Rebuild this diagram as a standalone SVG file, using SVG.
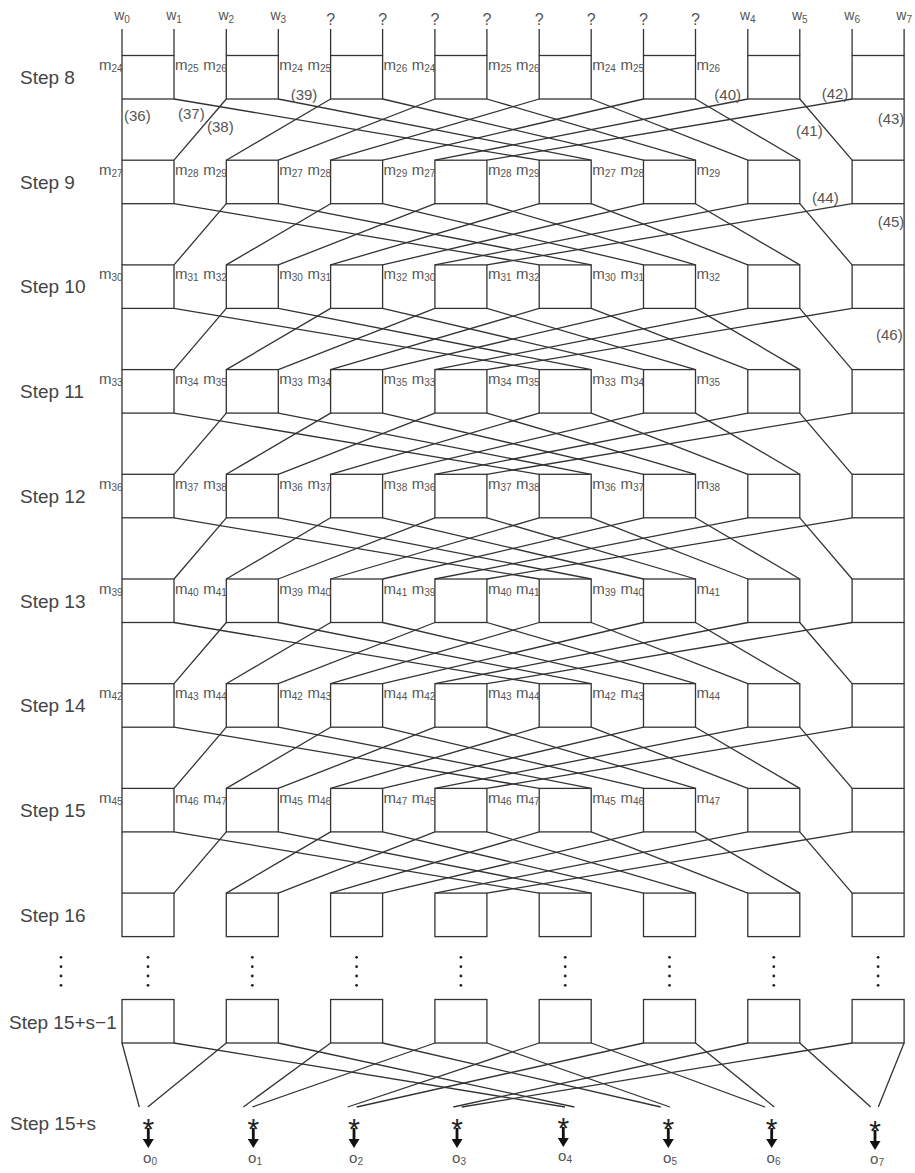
<svg xmlns="http://www.w3.org/2000/svg" width="915" height="1173" viewBox="0 0 915 1173">
<style>
.ln{stroke:#333;stroke-width:1.3;fill:none}
.box{fill:none;stroke:#333;stroke-width:1.3}
text{font-family:"Liberation Sans",Arial,sans-serif}
.step{font-size:19px;fill:#444}
.m{font-size:15px;fill:#555}
.s{font-size:10px}
.n{font-size:15px;fill:#555}
.w{font-size:14px;fill:#555;text-anchor:middle}
.q{font-size:16px;fill:#555;text-anchor:middle}
.star{font-size:30px;fill:#222;text-anchor:middle}
.o{font-size:15px;fill:#555;text-anchor:middle}
.arr{stroke:#111;stroke-width:2.8;marker-end:url(#ah)}
.dot{fill:#222}
.r{text-anchor:end}
</style>
<defs>
<marker id="ah" viewBox="0 0 10 11" refX="0" refY="5.5" markerWidth="10" markerHeight="11" markerUnits="userSpaceOnUse" orient="auto">
<path d="M0,0 L9,5.5 L0,11 z" fill="#111"/>
</marker>
</defs>
<rect width="915" height="1173" fill="#fff"/>

<g id="top-labels">
<text class="w" x="122" y="20">w<tspan class="s" dy="3">0</tspan></text>
<text class="w" x="174" y="20">w<tspan class="s" dy="3">1</tspan></text>
<text class="w" x="226.3" y="20">w<tspan class="s" dy="3">2</tspan></text>
<text class="w" x="278.3" y="20">w<tspan class="s" dy="3">3</tspan></text>
<text class="q" x="330.6" y="25">?</text>
<text class="q" x="382.6" y="25">?</text>
<text class="q" x="434.9" y="25">?</text>
<text class="q" x="486.9" y="25">?</text>
<text class="q" x="539.2" y="25">?</text>
<text class="q" x="591.2" y="25">?</text>
<text class="q" x="643.5" y="25">?</text>
<text class="q" x="695.5" y="25">?</text>
<text class="w" x="747.8" y="20">w<tspan class="s" dy="3">4</tspan></text>
<text class="w" x="799.8" y="20">w<tspan class="s" dy="3">5</tspan></text>
<text class="w" x="852.1" y="20">w<tspan class="s" dy="3">6</tspan></text>
<text class="w" x="904.1" y="20">w<tspan class="s" dy="3">7</tspan></text>
</g>

<g id="step-labels" class="step">
<text x="20" y="84">Step 8</text>
<text x="20" y="188.7">Step 9</text>
<text x="20" y="293.4">Step 10</text>
<text x="20" y="398.1">Step 11</text>
<text x="20" y="502.8">Step 12</text>
<text x="20" y="607.5">Step 13</text>
<text x="20" y="712.2">Step 14</text>
<text x="20" y="816.9">Step 15</text>
<text x="20" y="921.6">Step 16</text>
<text x="9" y="1029">Step 15+s−1</text>
<text x="10" y="1130">Step 15+s</text>
</g>

<g id="connectors" class="ln">
<line x1="122" y1="29" x2="122" y2="55.5"/><line x1="174" y1="29" x2="174" y2="55.5"/>
<line x1="226.3" y1="29" x2="226.3" y2="55.5"/><line x1="278.3" y1="29" x2="278.3" y2="55.5"/>
<line x1="330.6" y1="29" x2="330.6" y2="55.5"/><line x1="382.6" y1="29" x2="382.6" y2="55.5"/>
<line x1="434.9" y1="29" x2="434.9" y2="55.5"/><line x1="486.9" y1="29" x2="486.9" y2="55.5"/>
<line x1="539.2" y1="29" x2="539.2" y2="55.5"/><line x1="591.2" y1="29" x2="591.2" y2="55.5"/>
<line x1="643.5" y1="29" x2="643.5" y2="55.5"/><line x1="695.5" y1="29" x2="695.5" y2="55.5"/>
<line x1="747.8" y1="29" x2="747.8" y2="55.5"/><line x1="799.8" y1="29" x2="799.8" y2="55.5"/>
<line x1="852.1" y1="29" x2="852.1" y2="55.5"/><line x1="904.1" y1="29" x2="904.1" y2="55.5"/>
<line x1="122" y1="99" x2="122" y2="160.2"/><line x1="174" y1="99" x2="539.2" y2="160.2"/>
<line x1="226.3" y1="99" x2="174" y2="160.2"/><line x1="278.3" y1="99" x2="591.2" y2="160.2"/>
<line x1="330.6" y1="99" x2="226.3" y2="160.2"/><line x1="382.6" y1="99" x2="643.5" y2="160.2"/>
<line x1="434.9" y1="99" x2="278.3" y2="160.2"/><line x1="486.9" y1="99" x2="695.5" y2="160.2"/>
<line x1="539.2" y1="99" x2="330.6" y2="160.2"/><line x1="591.2" y1="99" x2="747.8" y2="160.2"/>
<line x1="643.5" y1="99" x2="382.6" y2="160.2"/><line x1="695.5" y1="99" x2="799.8" y2="160.2"/>
<line x1="747.8" y1="99" x2="434.9" y2="160.2"/><line x1="799.8" y1="99" x2="852.1" y2="160.2"/>
<line x1="852.1" y1="99" x2="486.9" y2="160.2"/><line x1="904.1" y1="99" x2="904.1" y2="160.2"/>
<line x1="122" y1="203.7" x2="122" y2="264.9"/><line x1="174" y1="203.7" x2="539.2" y2="264.9"/>
<line x1="226.3" y1="203.7" x2="174" y2="264.9"/><line x1="278.3" y1="203.7" x2="591.2" y2="264.9"/>
<line x1="330.6" y1="203.7" x2="226.3" y2="264.9"/><line x1="382.6" y1="203.7" x2="643.5" y2="264.9"/>
<line x1="434.9" y1="203.7" x2="278.3" y2="264.9"/><line x1="486.9" y1="203.7" x2="695.5" y2="264.9"/>
<line x1="539.2" y1="203.7" x2="330.6" y2="264.9"/><line x1="591.2" y1="203.7" x2="747.8" y2="264.9"/>
<line x1="643.5" y1="203.7" x2="382.6" y2="264.9"/><line x1="695.5" y1="203.7" x2="799.8" y2="264.9"/>
<line x1="747.8" y1="203.7" x2="434.9" y2="264.9"/><line x1="799.8" y1="203.7" x2="852.1" y2="264.9"/>
<line x1="852.1" y1="203.7" x2="486.9" y2="264.9"/><line x1="904.1" y1="203.7" x2="904.1" y2="264.9"/>
<line x1="122" y1="308.4" x2="122" y2="369.6"/><line x1="174" y1="308.4" x2="539.2" y2="369.6"/>
<line x1="226.3" y1="308.4" x2="174" y2="369.6"/><line x1="278.3" y1="308.4" x2="591.2" y2="369.6"/>
<line x1="330.6" y1="308.4" x2="226.3" y2="369.6"/><line x1="382.6" y1="308.4" x2="643.5" y2="369.6"/>
<line x1="434.9" y1="308.4" x2="278.3" y2="369.6"/><line x1="486.9" y1="308.4" x2="695.5" y2="369.6"/>
<line x1="539.2" y1="308.4" x2="330.6" y2="369.6"/><line x1="591.2" y1="308.4" x2="747.8" y2="369.6"/>
<line x1="643.5" y1="308.4" x2="382.6" y2="369.6"/><line x1="695.5" y1="308.4" x2="799.8" y2="369.6"/>
<line x1="747.8" y1="308.4" x2="434.9" y2="369.6"/><line x1="799.8" y1="308.4" x2="852.1" y2="369.6"/>
<line x1="852.1" y1="308.4" x2="486.9" y2="369.6"/><line x1="904.1" y1="308.4" x2="904.1" y2="369.6"/>
<line x1="122" y1="413.1" x2="122" y2="474.3"/><line x1="174" y1="413.1" x2="539.2" y2="474.3"/>
<line x1="226.3" y1="413.1" x2="174" y2="474.3"/><line x1="278.3" y1="413.1" x2="591.2" y2="474.3"/>
<line x1="330.6" y1="413.1" x2="226.3" y2="474.3"/><line x1="382.6" y1="413.1" x2="643.5" y2="474.3"/>
<line x1="434.9" y1="413.1" x2="278.3" y2="474.3"/><line x1="486.9" y1="413.1" x2="695.5" y2="474.3"/>
<line x1="539.2" y1="413.1" x2="330.6" y2="474.3"/><line x1="591.2" y1="413.1" x2="747.8" y2="474.3"/>
<line x1="643.5" y1="413.1" x2="382.6" y2="474.3"/><line x1="695.5" y1="413.1" x2="799.8" y2="474.3"/>
<line x1="747.8" y1="413.1" x2="434.9" y2="474.3"/><line x1="799.8" y1="413.1" x2="852.1" y2="474.3"/>
<line x1="852.1" y1="413.1" x2="486.9" y2="474.3"/><line x1="904.1" y1="413.1" x2="904.1" y2="474.3"/>
<line x1="122" y1="517.8" x2="122" y2="579"/><line x1="174" y1="517.8" x2="539.2" y2="579"/>
<line x1="226.3" y1="517.8" x2="174" y2="579"/><line x1="278.3" y1="517.8" x2="591.2" y2="579"/>
<line x1="330.6" y1="517.8" x2="226.3" y2="579"/><line x1="382.6" y1="517.8" x2="643.5" y2="579"/>
<line x1="434.9" y1="517.8" x2="278.3" y2="579"/><line x1="486.9" y1="517.8" x2="695.5" y2="579"/>
<line x1="539.2" y1="517.8" x2="330.6" y2="579"/><line x1="591.2" y1="517.8" x2="747.8" y2="579"/>
<line x1="643.5" y1="517.8" x2="382.6" y2="579"/><line x1="695.5" y1="517.8" x2="799.8" y2="579"/>
<line x1="747.8" y1="517.8" x2="434.9" y2="579"/><line x1="799.8" y1="517.8" x2="852.1" y2="579"/>
<line x1="852.1" y1="517.8" x2="486.9" y2="579"/><line x1="904.1" y1="517.8" x2="904.1" y2="579"/>
<line x1="122" y1="622.5" x2="122" y2="683.7"/><line x1="174" y1="622.5" x2="539.2" y2="683.7"/>
<line x1="226.3" y1="622.5" x2="174" y2="683.7"/><line x1="278.3" y1="622.5" x2="591.2" y2="683.7"/>
<line x1="330.6" y1="622.5" x2="226.3" y2="683.7"/><line x1="382.6" y1="622.5" x2="643.5" y2="683.7"/>
<line x1="434.9" y1="622.5" x2="278.3" y2="683.7"/><line x1="486.9" y1="622.5" x2="695.5" y2="683.7"/>
<line x1="539.2" y1="622.5" x2="330.6" y2="683.7"/><line x1="591.2" y1="622.5" x2="747.8" y2="683.7"/>
<line x1="643.5" y1="622.5" x2="382.6" y2="683.7"/><line x1="695.5" y1="622.5" x2="799.8" y2="683.7"/>
<line x1="747.8" y1="622.5" x2="434.9" y2="683.7"/><line x1="799.8" y1="622.5" x2="852.1" y2="683.7"/>
<line x1="852.1" y1="622.5" x2="486.9" y2="683.7"/><line x1="904.1" y1="622.5" x2="904.1" y2="683.7"/>
<line x1="122" y1="727.2" x2="122" y2="788.4"/><line x1="174" y1="727.2" x2="539.2" y2="788.4"/>
<line x1="226.3" y1="727.2" x2="174" y2="788.4"/><line x1="278.3" y1="727.2" x2="591.2" y2="788.4"/>
<line x1="330.6" y1="727.2" x2="226.3" y2="788.4"/><line x1="382.6" y1="727.2" x2="643.5" y2="788.4"/>
<line x1="434.9" y1="727.2" x2="278.3" y2="788.4"/><line x1="486.9" y1="727.2" x2="695.5" y2="788.4"/>
<line x1="539.2" y1="727.2" x2="330.6" y2="788.4"/><line x1="591.2" y1="727.2" x2="747.8" y2="788.4"/>
<line x1="643.5" y1="727.2" x2="382.6" y2="788.4"/><line x1="695.5" y1="727.2" x2="799.8" y2="788.4"/>
<line x1="747.8" y1="727.2" x2="434.9" y2="788.4"/><line x1="799.8" y1="727.2" x2="852.1" y2="788.4"/>
<line x1="852.1" y1="727.2" x2="486.9" y2="788.4"/><line x1="904.1" y1="727.2" x2="904.1" y2="788.4"/>
<line x1="122" y1="831.9" x2="122" y2="893.1"/><line x1="174" y1="831.9" x2="539.2" y2="893.1"/>
<line x1="226.3" y1="831.9" x2="174" y2="893.1"/><line x1="278.3" y1="831.9" x2="591.2" y2="893.1"/>
<line x1="330.6" y1="831.9" x2="226.3" y2="893.1"/><line x1="382.6" y1="831.9" x2="643.5" y2="893.1"/>
<line x1="434.9" y1="831.9" x2="278.3" y2="893.1"/><line x1="486.9" y1="831.9" x2="695.5" y2="893.1"/>
<line x1="539.2" y1="831.9" x2="330.6" y2="893.1"/><line x1="591.2" y1="831.9" x2="747.8" y2="893.1"/>
<line x1="643.5" y1="831.9" x2="382.6" y2="893.1"/><line x1="695.5" y1="831.9" x2="799.8" y2="893.1"/>
<line x1="747.8" y1="831.9" x2="434.9" y2="893.1"/><line x1="799.8" y1="831.9" x2="852.1" y2="893.1"/>
<line x1="852.1" y1="831.9" x2="486.9" y2="893.1"/><line x1="904.1" y1="831.9" x2="904.1" y2="893.1"/>
<line x1="122" y1="1043" x2="139.3" y2="1107"/><line x1="226.3" y1="1043" x2="147.7" y2="1107"/>
<line x1="330.6" y1="1043" x2="243.3" y2="1107"/><line x1="434.9" y1="1043" x2="252.3" y2="1107"/>
<line x1="539.2" y1="1043" x2="347.7" y2="1107"/><line x1="643.5" y1="1043" x2="356.7" y2="1107"/>
<line x1="747.8" y1="1043" x2="453.3" y2="1107"/><line x1="852.1" y1="1043" x2="461.7" y2="1107"/>
<line x1="174" y1="1043" x2="565" y2="1107"/><line x1="278.3" y1="1043" x2="574.3" y2="1107"/>
<line x1="382.6" y1="1043" x2="660.7" y2="1107"/><line x1="486.9" y1="1043" x2="670" y2="1107"/>
<line x1="591.2" y1="1043" x2="765" y2="1107"/><line x1="695.5" y1="1043" x2="774.3" y2="1107"/>
<line x1="799.8" y1="1043" x2="870.7" y2="1107"/><line x1="904.1" y1="1043" x2="878.3" y2="1107"/>
</g>

<g id="wire-numbers" class="n">
<text x="124" y="121">(36)</text>
<text x="178" y="119">(37)</text>
<text x="207" y="131.7">(38)</text>
<text x="290.7" y="100">(39)</text>
<text x="714.3" y="100">(40)</text>
<text x="796" y="136">(41)</text>
<text x="821.7" y="99">(42)</text>
<text x="877.7" y="124">(43)</text>
<text x="812" y="203.3">(44)</text>
<text x="877.7" y="226.7">(45)</text>
<text x="876" y="340">(46)</text>
</g>

<g id="s8-0"><rect class="box" x="122" y="55.5" width="52" height="43.5"/><text class="m r" x="122.5" y="70">m<tspan class="s" dy="2">24</tspan></text><text class="m" x="175" y="70">m<tspan class="s" dy="2">25</tspan></text></g>
<g id="s8-1"><rect class="box" x="226.3" y="55.5" width="52" height="43.5"/><text class="m r" x="226.8" y="70">m<tspan class="s" dy="2">26</tspan></text><text class="m" x="279.3" y="70">m<tspan class="s" dy="2">24</tspan></text></g>
<g id="s8-2"><rect class="box" x="330.6" y="55.5" width="52" height="43.5"/><text class="m r" x="331.1" y="70">m<tspan class="s" dy="2">25</tspan></text><text class="m" x="383.6" y="70">m<tspan class="s" dy="2">26</tspan></text></g>
<g id="s8-3"><rect class="box" x="434.9" y="55.5" width="52" height="43.5"/><text class="m r" x="435.4" y="70">m<tspan class="s" dy="2">24</tspan></text><text class="m" x="487.9" y="70">m<tspan class="s" dy="2">25</tspan></text></g>
<g id="s8-4"><rect class="box" x="539.2" y="55.5" width="52" height="43.5"/><text class="m r" x="539.7" y="70">m<tspan class="s" dy="2">26</tspan></text><text class="m" x="592.2" y="70">m<tspan class="s" dy="2">24</tspan></text></g>
<g id="s8-5"><rect class="box" x="643.5" y="55.5" width="52" height="43.5"/><text class="m r" x="644" y="70">m<tspan class="s" dy="2">25</tspan></text><text class="m" x="696.5" y="70">m<tspan class="s" dy="2">26</tspan></text></g>
<g id="s8-6"><rect class="box" x="747.8" y="55.5" width="52" height="43.5"/></g>
<g id="s8-7"><rect class="box" x="852.1" y="55.5" width="52" height="43.5"/></g>

<g id="s9-0"><rect class="box" x="122" y="160.2" width="52" height="43.5"/><text class="m r" x="122.5" y="174.7">m<tspan class="s" dy="2">27</tspan></text><text class="m" x="175" y="174.7">m<tspan class="s" dy="2">28</tspan></text></g>
<g id="s9-1"><rect class="box" x="226.3" y="160.2" width="52" height="43.5"/><text class="m r" x="226.8" y="174.7">m<tspan class="s" dy="2">29</tspan></text><text class="m" x="279.3" y="174.7">m<tspan class="s" dy="2">27</tspan></text></g>
<g id="s9-2"><rect class="box" x="330.6" y="160.2" width="52" height="43.5"/><text class="m r" x="331.1" y="174.7">m<tspan class="s" dy="2">28</tspan></text><text class="m" x="383.6" y="174.7">m<tspan class="s" dy="2">29</tspan></text></g>
<g id="s9-3"><rect class="box" x="434.9" y="160.2" width="52" height="43.5"/><text class="m r" x="435.4" y="174.7">m<tspan class="s" dy="2">27</tspan></text><text class="m" x="487.9" y="174.7">m<tspan class="s" dy="2">28</tspan></text></g>
<g id="s9-4"><rect class="box" x="539.2" y="160.2" width="52" height="43.5"/><text class="m r" x="539.7" y="174.7">m<tspan class="s" dy="2">29</tspan></text><text class="m" x="592.2" y="174.7">m<tspan class="s" dy="2">27</tspan></text></g>
<g id="s9-5"><rect class="box" x="643.5" y="160.2" width="52" height="43.5"/><text class="m r" x="644" y="174.7">m<tspan class="s" dy="2">28</tspan></text><text class="m" x="696.5" y="174.7">m<tspan class="s" dy="2">29</tspan></text></g>
<g id="s9-6"><rect class="box" x="747.8" y="160.2" width="52" height="43.5"/></g>
<g id="s9-7"><rect class="box" x="852.1" y="160.2" width="52" height="43.5"/></g>

<g id="s10-0"><rect class="box" x="122" y="264.9" width="52" height="43.5"/><text class="m r" x="122.5" y="279.4">m<tspan class="s" dy="2">30</tspan></text><text class="m" x="175" y="279.4">m<tspan class="s" dy="2">31</tspan></text></g>
<g id="s10-1"><rect class="box" x="226.3" y="264.9" width="52" height="43.5"/><text class="m r" x="226.8" y="279.4">m<tspan class="s" dy="2">32</tspan></text><text class="m" x="279.3" y="279.4">m<tspan class="s" dy="2">30</tspan></text></g>
<g id="s10-2"><rect class="box" x="330.6" y="264.9" width="52" height="43.5"/><text class="m r" x="331.1" y="279.4">m<tspan class="s" dy="2">31</tspan></text><text class="m" x="383.6" y="279.4">m<tspan class="s" dy="2">32</tspan></text></g>
<g id="s10-3"><rect class="box" x="434.9" y="264.9" width="52" height="43.5"/><text class="m r" x="435.4" y="279.4">m<tspan class="s" dy="2">30</tspan></text><text class="m" x="487.9" y="279.4">m<tspan class="s" dy="2">31</tspan></text></g>
<g id="s10-4"><rect class="box" x="539.2" y="264.9" width="52" height="43.5"/><text class="m r" x="539.7" y="279.4">m<tspan class="s" dy="2">32</tspan></text><text class="m" x="592.2" y="279.4">m<tspan class="s" dy="2">30</tspan></text></g>
<g id="s10-5"><rect class="box" x="643.5" y="264.9" width="52" height="43.5"/><text class="m r" x="644" y="279.4">m<tspan class="s" dy="2">31</tspan></text><text class="m" x="696.5" y="279.4">m<tspan class="s" dy="2">32</tspan></text></g>
<g id="s10-6"><rect class="box" x="747.8" y="264.9" width="52" height="43.5"/></g>
<g id="s10-7"><rect class="box" x="852.1" y="264.9" width="52" height="43.5"/></g>

<g id="s11-0"><rect class="box" x="122" y="369.6" width="52" height="43.5"/><text class="m r" x="122.5" y="384.1">m<tspan class="s" dy="2">33</tspan></text><text class="m" x="175" y="384.1">m<tspan class="s" dy="2">34</tspan></text></g>
<g id="s11-1"><rect class="box" x="226.3" y="369.6" width="52" height="43.5"/><text class="m r" x="226.8" y="384.1">m<tspan class="s" dy="2">35</tspan></text><text class="m" x="279.3" y="384.1">m<tspan class="s" dy="2">33</tspan></text></g>
<g id="s11-2"><rect class="box" x="330.6" y="369.6" width="52" height="43.5"/><text class="m r" x="331.1" y="384.1">m<tspan class="s" dy="2">34</tspan></text><text class="m" x="383.6" y="384.1">m<tspan class="s" dy="2">35</tspan></text></g>
<g id="s11-3"><rect class="box" x="434.9" y="369.6" width="52" height="43.5"/><text class="m r" x="435.4" y="384.1">m<tspan class="s" dy="2">33</tspan></text><text class="m" x="487.9" y="384.1">m<tspan class="s" dy="2">34</tspan></text></g>
<g id="s11-4"><rect class="box" x="539.2" y="369.6" width="52" height="43.5"/><text class="m r" x="539.7" y="384.1">m<tspan class="s" dy="2">35</tspan></text><text class="m" x="592.2" y="384.1">m<tspan class="s" dy="2">33</tspan></text></g>
<g id="s11-5"><rect class="box" x="643.5" y="369.6" width="52" height="43.5"/><text class="m r" x="644" y="384.1">m<tspan class="s" dy="2">34</tspan></text><text class="m" x="696.5" y="384.1">m<tspan class="s" dy="2">35</tspan></text></g>
<g id="s11-6"><rect class="box" x="747.8" y="369.6" width="52" height="43.5"/></g>
<g id="s11-7"><rect class="box" x="852.1" y="369.6" width="52" height="43.5"/></g>

<g id="s12-0"><rect class="box" x="122" y="474.3" width="52" height="43.5"/><text class="m r" x="122.5" y="488.8">m<tspan class="s" dy="2">36</tspan></text><text class="m" x="175" y="488.8">m<tspan class="s" dy="2">37</tspan></text></g>
<g id="s12-1"><rect class="box" x="226.3" y="474.3" width="52" height="43.5"/><text class="m r" x="226.8" y="488.8">m<tspan class="s" dy="2">38</tspan></text><text class="m" x="279.3" y="488.8">m<tspan class="s" dy="2">36</tspan></text></g>
<g id="s12-2"><rect class="box" x="330.6" y="474.3" width="52" height="43.5"/><text class="m r" x="331.1" y="488.8">m<tspan class="s" dy="2">37</tspan></text><text class="m" x="383.6" y="488.8">m<tspan class="s" dy="2">38</tspan></text></g>
<g id="s12-3"><rect class="box" x="434.9" y="474.3" width="52" height="43.5"/><text class="m r" x="435.4" y="488.8">m<tspan class="s" dy="2">36</tspan></text><text class="m" x="487.9" y="488.8">m<tspan class="s" dy="2">37</tspan></text></g>
<g id="s12-4"><rect class="box" x="539.2" y="474.3" width="52" height="43.5"/><text class="m r" x="539.7" y="488.8">m<tspan class="s" dy="2">38</tspan></text><text class="m" x="592.2" y="488.8">m<tspan class="s" dy="2">36</tspan></text></g>
<g id="s12-5"><rect class="box" x="643.5" y="474.3" width="52" height="43.5"/><text class="m r" x="644" y="488.8">m<tspan class="s" dy="2">37</tspan></text><text class="m" x="696.5" y="488.8">m<tspan class="s" dy="2">38</tspan></text></g>
<g id="s12-6"><rect class="box" x="747.8" y="474.3" width="52" height="43.5"/></g>
<g id="s12-7"><rect class="box" x="852.1" y="474.3" width="52" height="43.5"/></g>

<g id="s13-0"><rect class="box" x="122" y="579" width="52" height="43.5"/><text class="m r" x="122.5" y="593.5">m<tspan class="s" dy="2">39</tspan></text><text class="m" x="175" y="593.5">m<tspan class="s" dy="2">40</tspan></text></g>
<g id="s13-1"><rect class="box" x="226.3" y="579" width="52" height="43.5"/><text class="m r" x="226.8" y="593.5">m<tspan class="s" dy="2">41</tspan></text><text class="m" x="279.3" y="593.5">m<tspan class="s" dy="2">39</tspan></text></g>
<g id="s13-2"><rect class="box" x="330.6" y="579" width="52" height="43.5"/><text class="m r" x="331.1" y="593.5">m<tspan class="s" dy="2">40</tspan></text><text class="m" x="383.6" y="593.5">m<tspan class="s" dy="2">41</tspan></text></g>
<g id="s13-3"><rect class="box" x="434.9" y="579" width="52" height="43.5"/><text class="m r" x="435.4" y="593.5">m<tspan class="s" dy="2">39</tspan></text><text class="m" x="487.9" y="593.5">m<tspan class="s" dy="2">40</tspan></text></g>
<g id="s13-4"><rect class="box" x="539.2" y="579" width="52" height="43.5"/><text class="m r" x="539.7" y="593.5">m<tspan class="s" dy="2">41</tspan></text><text class="m" x="592.2" y="593.5">m<tspan class="s" dy="2">39</tspan></text></g>
<g id="s13-5"><rect class="box" x="643.5" y="579" width="52" height="43.5"/><text class="m r" x="644" y="593.5">m<tspan class="s" dy="2">40</tspan></text><text class="m" x="696.5" y="593.5">m<tspan class="s" dy="2">41</tspan></text></g>
<g id="s13-6"><rect class="box" x="747.8" y="579" width="52" height="43.5"/></g>
<g id="s13-7"><rect class="box" x="852.1" y="579" width="52" height="43.5"/></g>

<g id="s14-0"><rect class="box" x="122" y="683.7" width="52" height="43.5"/><text class="m r" x="122.5" y="698.2">m<tspan class="s" dy="2">42</tspan></text><text class="m" x="175" y="698.2">m<tspan class="s" dy="2">43</tspan></text></g>
<g id="s14-1"><rect class="box" x="226.3" y="683.7" width="52" height="43.5"/><text class="m r" x="226.8" y="698.2">m<tspan class="s" dy="2">44</tspan></text><text class="m" x="279.3" y="698.2">m<tspan class="s" dy="2">42</tspan></text></g>
<g id="s14-2"><rect class="box" x="330.6" y="683.7" width="52" height="43.5"/><text class="m r" x="331.1" y="698.2">m<tspan class="s" dy="2">43</tspan></text><text class="m" x="383.6" y="698.2">m<tspan class="s" dy="2">44</tspan></text></g>
<g id="s14-3"><rect class="box" x="434.9" y="683.7" width="52" height="43.5"/><text class="m r" x="435.4" y="698.2">m<tspan class="s" dy="2">42</tspan></text><text class="m" x="487.9" y="698.2">m<tspan class="s" dy="2">43</tspan></text></g>
<g id="s14-4"><rect class="box" x="539.2" y="683.7" width="52" height="43.5"/><text class="m r" x="539.7" y="698.2">m<tspan class="s" dy="2">44</tspan></text><text class="m" x="592.2" y="698.2">m<tspan class="s" dy="2">42</tspan></text></g>
<g id="s14-5"><rect class="box" x="643.5" y="683.7" width="52" height="43.5"/><text class="m r" x="644" y="698.2">m<tspan class="s" dy="2">43</tspan></text><text class="m" x="696.5" y="698.2">m<tspan class="s" dy="2">44</tspan></text></g>
<g id="s14-6"><rect class="box" x="747.8" y="683.7" width="52" height="43.5"/></g>
<g id="s14-7"><rect class="box" x="852.1" y="683.7" width="52" height="43.5"/></g>

<g id="s15-0"><rect class="box" x="122" y="788.4" width="52" height="43.5"/><text class="m r" x="122.5" y="802.9">m<tspan class="s" dy="2">45</tspan></text><text class="m" x="175" y="802.9">m<tspan class="s" dy="2">46</tspan></text></g>
<g id="s15-1"><rect class="box" x="226.3" y="788.4" width="52" height="43.5"/><text class="m r" x="226.8" y="802.9">m<tspan class="s" dy="2">47</tspan></text><text class="m" x="279.3" y="802.9">m<tspan class="s" dy="2">45</tspan></text></g>
<g id="s15-2"><rect class="box" x="330.6" y="788.4" width="52" height="43.5"/><text class="m r" x="331.1" y="802.9">m<tspan class="s" dy="2">46</tspan></text><text class="m" x="383.6" y="802.9">m<tspan class="s" dy="2">47</tspan></text></g>
<g id="s15-3"><rect class="box" x="434.9" y="788.4" width="52" height="43.5"/><text class="m r" x="435.4" y="802.9">m<tspan class="s" dy="2">45</tspan></text><text class="m" x="487.9" y="802.9">m<tspan class="s" dy="2">46</tspan></text></g>
<g id="s15-4"><rect class="box" x="539.2" y="788.4" width="52" height="43.5"/><text class="m r" x="539.7" y="802.9">m<tspan class="s" dy="2">47</tspan></text><text class="m" x="592.2" y="802.9">m<tspan class="s" dy="2">45</tspan></text></g>
<g id="s15-5"><rect class="box" x="643.5" y="788.4" width="52" height="43.5"/><text class="m r" x="644" y="802.9">m<tspan class="s" dy="2">46</tspan></text><text class="m" x="696.5" y="802.9">m<tspan class="s" dy="2">47</tspan></text></g>
<g id="s15-6"><rect class="box" x="747.8" y="788.4" width="52" height="43.5"/></g>
<g id="s15-7"><rect class="box" x="852.1" y="788.4" width="52" height="43.5"/></g>

<g id="s16-0"><rect class="box" x="122" y="893.1" width="52" height="43.5"/></g>
<g id="s16-1"><rect class="box" x="226.3" y="893.1" width="52" height="43.5"/></g>
<g id="s16-2"><rect class="box" x="330.6" y="893.1" width="52" height="43.5"/></g>
<g id="s16-3"><rect class="box" x="434.9" y="893.1" width="52" height="43.5"/></g>
<g id="s16-4"><rect class="box" x="539.2" y="893.1" width="52" height="43.5"/></g>
<g id="s16-5"><rect class="box" x="643.5" y="893.1" width="52" height="43.5"/></g>
<g id="s16-6"><rect class="box" x="747.8" y="893.1" width="52" height="43.5"/></g>
<g id="s16-7"><rect class="box" x="852.1" y="893.1" width="52" height="43.5"/></g>

<g id="sl-0"><rect class="box" x="122" y="999.5" width="52" height="43.5"/></g>
<g id="sl-1"><rect class="box" x="226.3" y="999.5" width="52" height="43.5"/></g>
<g id="sl-2"><rect class="box" x="330.6" y="999.5" width="52" height="43.5"/></g>
<g id="sl-3"><rect class="box" x="434.9" y="999.5" width="52" height="43.5"/></g>
<g id="sl-4"><rect class="box" x="539.2" y="999.5" width="52" height="43.5"/></g>
<g id="sl-5"><rect class="box" x="643.5" y="999.5" width="52" height="43.5"/></g>
<g id="sl-6"><rect class="box" x="747.8" y="999.5" width="52" height="43.5"/></g>
<g id="sl-7"><rect class="box" x="852.1" y="999.5" width="52" height="43.5"/></g>

<g id="ellipsis" class="dot">
<circle cx="61" cy="957.3" r="1.4"/><circle cx="61" cy="966.7" r="1.4"/><circle cx="61" cy="976" r="1.4"/><circle cx="61" cy="985.3" r="1.4"/>
<circle cx="148" cy="957.3" r="1.4"/><circle cx="148" cy="966.7" r="1.4"/><circle cx="148" cy="976" r="1.4"/><circle cx="148" cy="985.3" r="1.4"/>
<circle cx="252.3" cy="957.3" r="1.4"/><circle cx="252.3" cy="966.7" r="1.4"/><circle cx="252.3" cy="976" r="1.4"/><circle cx="252.3" cy="985.3" r="1.4"/>
<circle cx="356.6" cy="957.3" r="1.4"/><circle cx="356.6" cy="966.7" r="1.4"/><circle cx="356.6" cy="976" r="1.4"/><circle cx="356.6" cy="985.3" r="1.4"/>
<circle cx="460.9" cy="957.3" r="1.4"/><circle cx="460.9" cy="966.7" r="1.4"/><circle cx="460.9" cy="976" r="1.4"/><circle cx="460.9" cy="985.3" r="1.4"/>
<circle cx="565.2" cy="957.3" r="1.4"/><circle cx="565.2" cy="966.7" r="1.4"/><circle cx="565.2" cy="976" r="1.4"/><circle cx="565.2" cy="985.3" r="1.4"/>
<circle cx="669.5" cy="957.3" r="1.4"/><circle cx="669.5" cy="966.7" r="1.4"/><circle cx="669.5" cy="976" r="1.4"/><circle cx="669.5" cy="985.3" r="1.4"/>
<circle cx="773.8" cy="957.3" r="1.4"/><circle cx="773.8" cy="966.7" r="1.4"/><circle cx="773.8" cy="976" r="1.4"/><circle cx="773.8" cy="985.3" r="1.4"/>
<circle cx="878.1" cy="957.3" r="1.4"/><circle cx="878.1" cy="966.7" r="1.4"/><circle cx="878.1" cy="976" r="1.4"/><circle cx="878.1" cy="985.3" r="1.4"/>
</g>

<g id="out-0"><text class="star" x="148.3" y="1139">*</text><line class="arr" x1="148.3" y1="1128" x2="148.3" y2="1139"/><text class="o" x="150" y="1163">o<tspan class="s" dy="2">0</tspan></text></g>
<g id="out-1"><text class="star" x="253.3" y="1139">*</text><line class="arr" x1="253.3" y1="1128" x2="253.3" y2="1139"/><text class="o" x="255" y="1163">o<tspan class="s" dy="2">1</tspan></text></g>
<g id="out-2"><text class="star" x="354" y="1139">*</text><line class="arr" x1="354" y1="1128" x2="354" y2="1139"/><text class="o" x="356" y="1163">o<tspan class="s" dy="2">2</tspan></text></g>
<g id="out-3"><text class="star" x="457" y="1139">*</text><line class="arr" x1="457" y1="1128" x2="457" y2="1139"/><text class="o" x="459" y="1163">o<tspan class="s" dy="2">3</tspan></text></g>
<g id="out-4"><text class="star" x="563.3" y="1138">*</text><line class="arr" x1="563.3" y1="1127" x2="563.3" y2="1138"/><text class="o" x="565" y="1161">o<tspan class="s" dy="2">4</tspan></text></g>
<g id="out-5"><text class="star" x="668.3" y="1139">*</text><line class="arr" x1="668.3" y1="1128" x2="668.3" y2="1139"/><text class="o" x="670" y="1163">o<tspan class="s" dy="2">5</tspan></text></g>
<g id="out-6"><text class="star" x="771.7" y="1139">*</text><line class="arr" x1="771.7" y1="1128" x2="771.7" y2="1139"/><text class="o" x="773.5" y="1163">o<tspan class="s" dy="2">6</tspan></text></g>
<g id="out-7"><text class="star" x="875" y="1141">*</text><line class="arr" x1="875" y1="1130" x2="875" y2="1141"/><text class="o" x="877" y="1164">o<tspan class="s" dy="2">7</tspan></text></g>
</svg>
